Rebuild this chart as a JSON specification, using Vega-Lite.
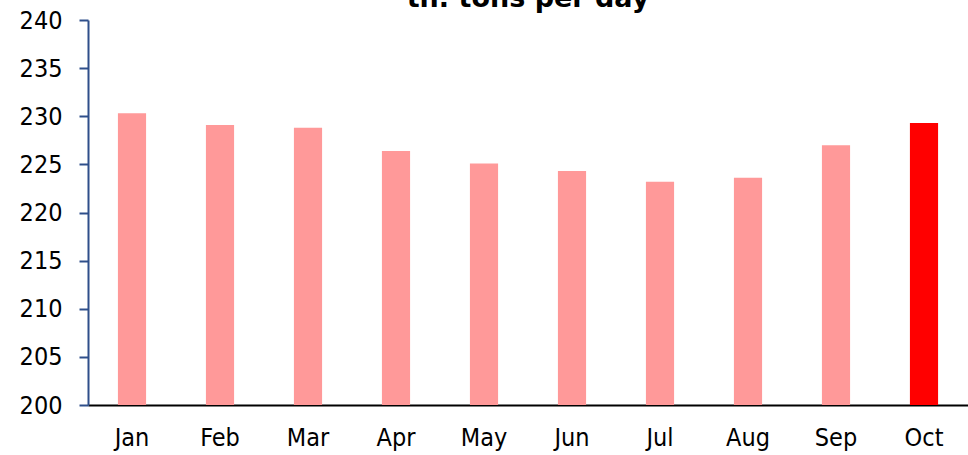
{
  "$schema": "https://vega.github.io/schema/vega-lite/v6.json",
  "width": 880,
  "height": 385,
  "autosize": {"type": "none"},
  "padding": {"left": 88, "top": 20, "right": 0, "bottom": 50},
  "background": "white",
  "title": {
    "text": "th. tons per day",
    "font": "DejaVu Sans",
    "fontSize": 27,
    "fontWeight": "bold",
    "color": "black",
    "anchor": "middle",
    "offset": -5
  },
  "config": {"view": {"stroke": null}},
  "data": {
    "values": [
      {"month": "Jan", "value": 230.3, "current": "no"},
      {"month": "Feb", "value": 229.1, "current": "no"},
      {"month": "Mar", "value": 228.8, "current": "no"},
      {"month": "Apr", "value": 226.4, "current": "no"},
      {"month": "May", "value": 225.1, "current": "no"},
      {"month": "Jun", "value": 224.3, "current": "no"},
      {"month": "Jul", "value": 223.2, "current": "no"},
      {"month": "Aug", "value": 223.6, "current": "no"},
      {"month": "Sep", "value": 227.0, "current": "no"},
      {"month": "Oct", "value": 229.3, "current": "yes"}
    ]
  },
  "mark": {"type": "bar", "clip": true},
  "encoding": {
    "x": {
      "field": "month",
      "type": "nominal",
      "sort": null,
      "scale": {"paddingInner": 0.68, "paddingOuter": 0.34},
      "axis": {
        "title": null,
        "labelAngle": 0,
        "labelFont": "DejaVu Sans Condensed",
        "labelFontSize": 25,
        "labelColor": "black",
        "labelPadding": 20,
        "ticks": false,
        "domainColor": "black",
        "domainWidth": 2
      }
    },
    "y": {
      "field": "value",
      "type": "quantitative",
      "scale": {"domain": [200, 240], "zero": false},
      "axis": {
        "title": null,
        "values": [200, 205, 210, 215, 220, 225, 230, 235, 240],
        "grid": false,
        "labelFont": "DejaVu Sans Condensed",
        "labelFontSize": 25,
        "labelColor": "black",
        "labelPadding": 17,
        "tickSize": 9,
        "tickColor": "#2F4F8A",
        "tickWidth": 2,
        "domainColor": "#2F4F8A",
        "domainWidth": 2
      }
    },
    "y2": {"datum": 200},
    "color": {
      "field": "current",
      "type": "nominal",
      "scale": {"domain": ["no", "yes"], "range": ["#FF9999", "#FF0000"]},
      "legend": null
    }
  }
}
